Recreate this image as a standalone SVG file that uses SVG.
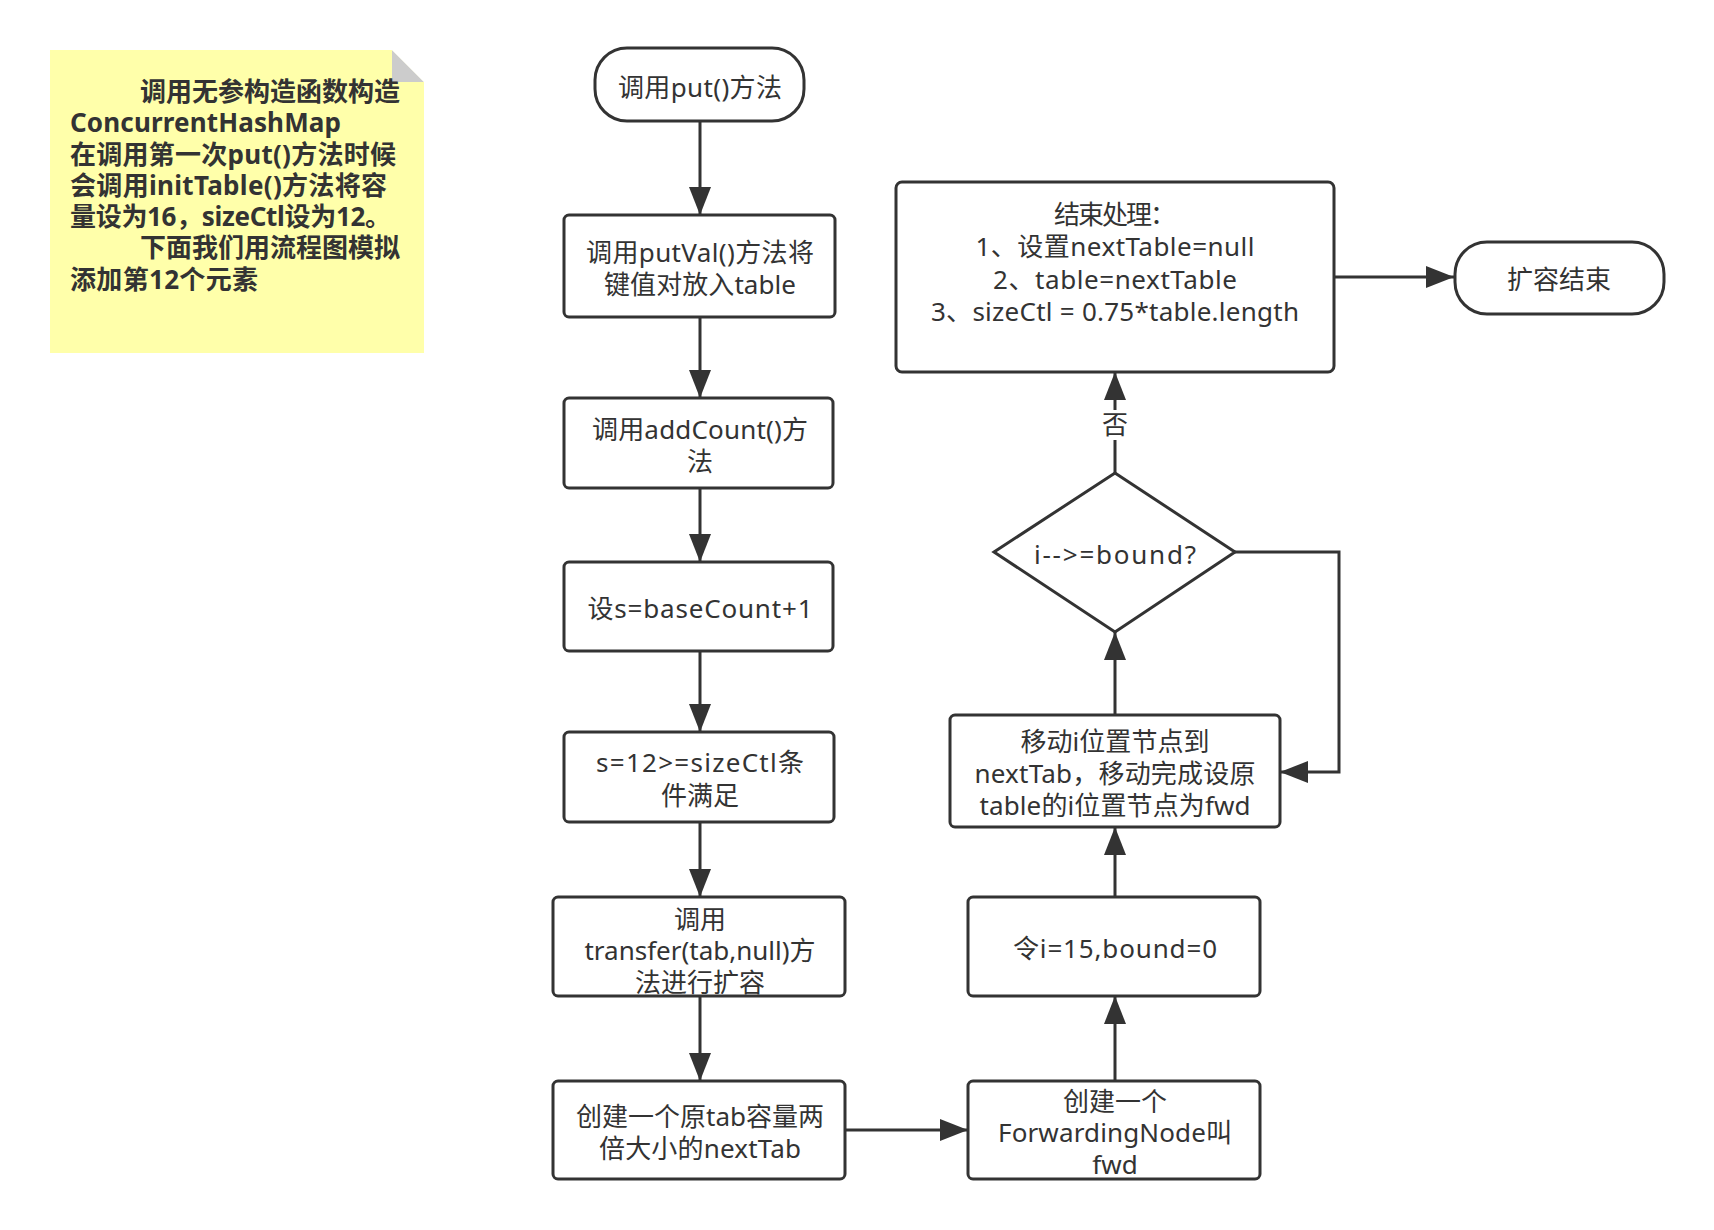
<svg xmlns="http://www.w3.org/2000/svg" width="1714" height="1230" viewBox="0 0 1714 1230">
<defs>
<marker id="ah" markerUnits="userSpaceOnUse" markerWidth="28" markerHeight="22" refX="28" refY="11" orient="auto">
<path d="M0,0 L28,11 L0,22 z" fill="#333"/>
</marker>
<style>
.b{fill:#fff;stroke:#333;stroke-width:3}
.t{font-family:"Noto Sans","Noto Sans CJK SC",sans-serif;font-size:26px;fill:#333;text-anchor:middle}
.n{font-family:"Noto Sans","Noto Sans CJK SC",sans-serif;font-size:26px;font-weight:bold;fill:#333}
.c{fill:none;stroke:#333;stroke-width:3;marker-end:url(#ah)}
</style>
</defs>
<rect width="1714" height="1230" fill="#fff"/>
<g id="note">
<path d="M50,50 L392,50 L424,82 L424,353 L50,353 z" fill="#ffffaa"/>
<path d="M392,50 L424,82 L392,82 z" fill="#cccccc"/>
<path d="M392,50 L424,50 L424,82 z" fill="#fff"/>
<text class="n" x="140" y="101" textLength="260" lengthAdjust="spacing">调用无参构造函数构造</text>
<text class="n" x="70" y="132" textLength="271" lengthAdjust="spacing">ConcurrentHashMap</text>
<text class="n" x="70" y="164" textLength="326" lengthAdjust="spacing">在调用第一次put()方法时候</text>
<text class="n" x="70" y="195" textLength="317" lengthAdjust="spacing">会调用initTable()方法将容</text>
<text class="n" x="70" y="226" textLength="321" lengthAdjust="spacing">量设为16，sizeCtl设为12。</text>
<text class="n" x="140" y="257" textLength="260" lengthAdjust="spacing">下面我们用流程图模拟</text>
<text class="n" x="70" y="289" textLength="188" lengthAdjust="spacing">添加第12个元素</text>
</g>
<g id="connectors">
<path class="c" d="M700,121 L700,215"/>
<path class="c" d="M700,317 L700,398"/>
<path class="c" d="M700,488 L700,562"/>
<path class="c" d="M700,651 L700,732"/>
<path class="c" d="M700,822 L700,897"/>
<path class="c" d="M700,996 L700,1081"/>
<path class="c" d="M845,1130 L968,1130"/>
<path class="c" d="M1115,1081 L1115,996"/>
<path class="c" d="M1115,897 L1115,827"/>
<path class="c" d="M1115,715 L1115,632"/>
<path class="c" d="M1115,473 L1115,372"/>
<path class="c" d="M1235,552 L1339,552 L1339,772 L1280,772"/>
<path class="c" d="M1334,277 L1454,277"/>
<rect x="1100" y="410" width="30" height="30" fill="#fff"/>
<text class="t" x="1115" y="434">否</text>
</g>
<g id="start">
<rect class="b" x="595" y="48" width="209" height="73" rx="32"/>
<text class="t" x="700" y="97" textLength="164" lengthAdjust="spacing">调用put()方法</text>
</g>
<g id="putval">
<rect class="b" x="564" y="215" width="271" height="102" rx="5"/>
<text class="t" x="700" y="262" textLength="228" lengthAdjust="spacing">调用putVal()方法将</text>
<text class="t" x="700" y="294" textLength="192" lengthAdjust="spacing">键值对放入table</text>
</g>
<g id="addcount">
<rect class="b" x="564" y="398" width="269" height="90" rx="5"/>
<text class="t" x="700" y="439" textLength="216" lengthAdjust="spacing">调用addCount()方</text>
<text class="t" x="700" y="471">法</text>
</g>
<g id="sets">
<rect class="b" x="564" y="562" width="269" height="89" rx="5"/>
<text class="t" x="700" y="618" textLength="225" lengthAdjust="spacing">设s=baseCount+1</text>
</g>
<g id="cond">
<rect class="b" x="564" y="732" width="270" height="90" rx="5"/>
<text class="t" x="700" y="772" textLength="208" lengthAdjust="spacing">s=12&gt;=sizeCtl条</text>
<text class="t" x="700" y="805">件满足</text>
</g>
<g id="transfer">
<rect class="b" x="553" y="897" width="292" height="99" rx="5"/>
<text class="t" x="700" y="929">调用</text>
<text class="t" x="700" y="960" textLength="231" lengthAdjust="spacing">transfer(tab,null)方</text>
<text class="t" x="700" y="992">法进行扩容</text>
</g>
<g id="nexttab">
<rect class="b" x="553" y="1081" width="292" height="98" rx="5"/>
<text class="t" x="700" y="1126" textLength="248" lengthAdjust="spacing">创建一个原tab容量两</text>
<text class="t" x="700" y="1158" textLength="202" lengthAdjust="spacing">倍大小的nextTab</text>
</g>
<g id="fwd">
<rect class="b" x="968" y="1081" width="292" height="98" rx="5"/>
<text class="t" x="1115" y="1111">创建一个</text>
<text class="t" x="1115" y="1142" textLength="234" lengthAdjust="spacing">ForwardingNode叫</text>
<text class="t" x="1115" y="1174">fwd</text>
</g>
<g id="initi">
<rect class="b" x="968" y="897" width="292" height="99" rx="5"/>
<text class="t" x="1115" y="958" textLength="204" lengthAdjust="spacing">令i=15,bound=0</text>
</g>
<g id="move">
<rect class="b" x="950" y="715" width="330" height="112" rx="5"/>
<text class="t" x="1115" y="751" textLength="189" lengthAdjust="spacing">移动i位置节点到</text>
<text class="t" x="1115" y="783" textLength="281" lengthAdjust="spacing">nextTab，移动完成设原</text>
<text class="t" x="1115" y="815" textLength="271" lengthAdjust="spacing">table的i位置节点为fwd</text>
</g>
<g id="decision">
<path class="b" d="M1115,473 L1235,552 L1115,632 L994,552 z"/>
<text class="t" x="1115" y="564" textLength="162" lengthAdjust="spacing">i--&gt;=bound?</text>
</g>
<g id="finish">
<rect class="b" x="896" y="182" width="438" height="190" rx="6"/>
<text class="t" x="1115" y="224" textLength="122" lengthAdjust="spacing">结束处理：</text>
<text class="t" x="1115" y="256" textLength="279" lengthAdjust="spacing">1、设置nextTable=null</text>
<text class="t" x="1115" y="289" textLength="244" lengthAdjust="spacing">2、table=nextTable</text>
<text class="t" x="1115" y="321" textLength="368" lengthAdjust="spacing">3、sizeCtl = 0.75*table.length</text>
</g>
<g id="end">
<rect class="b" x="1455" y="242" width="209" height="72" rx="32"/>
<text class="t" x="1559" y="289">扩容结束</text>
</g>
</svg>
